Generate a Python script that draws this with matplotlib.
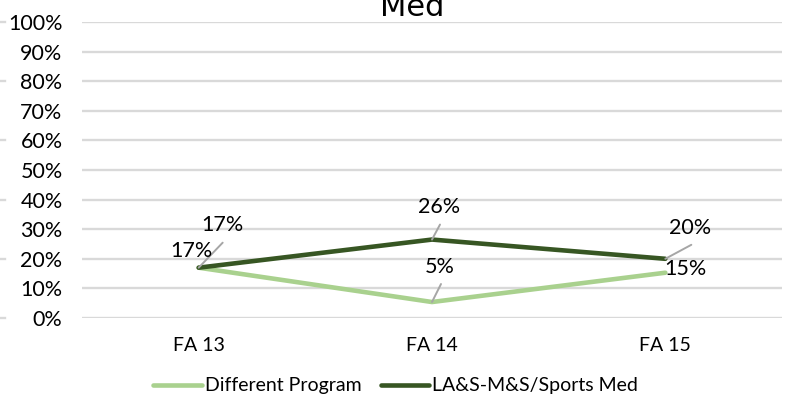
import numpy as np
import matplotlib.pyplot as plt
import matplotlib.transforms as mtransforms

plt.rcParams['font.family'] = ['Lato', 'DejaVu Sans']

# данные
categories = ['FA 13', 'FA 14', 'FA 15']
different_program = [0.17, 0.054, 0.153]
sports_med = [0.17, 0.265, 0.20]
yticks = np.arange(0, 1.01, 0.1)

light = '#A9D18E'
dark = '#375623'
grid_col = '#D9D9D9'
leader_col = '#A6A6A6'

fig = plt.figure(figsize=(7.91, 4.05), dpi=100)
ax = fig.add_axes([82 / 791, 1 - 318 / 405, 700 / 791, 296 / 405])

x = np.arange(len(categories))
ax.plot(x, different_program, color=light, lw=3.3, solid_capstyle='round',
        solid_joinstyle='round', label='Different Program', zorder=3)
ax.plot(x, sports_med, color=dark, lw=3.3, solid_capstyle='round',
        solid_joinstyle='round', label='LA&S-M&S/Sports Med', zorder=4)

ax.set_xlim(-0.5, 2.5)
ax.set_ylim(0, 1)
ax.set_yticks(yticks)
ax.set_yticklabels([f'{int(round(v * 100))}%' for v in yticks])
ax.set_xticks(x)
ax.set_xticklabels(categories)
ax.tick_params(axis='both', length=0, colors='black')
ax.tick_params(axis='y', pad=14, labelsize=15.5)
ax.tick_params(axis='x', pad=14, labelsize=14)
ax.grid(axis='y', color=grid_col, lw=1.7)
ax.set_axisbelow(True)
for s in ax.spines.values():
    s.set_visible(False)

# подписи данных: (текст dx, dy, конец выноски dx, dy) в пикселях
px = 0.72
dark_lab = [(24, 43, 24, 25), (7, 33, 8, 15), (25, 31, 26, 14)]
light_lab = [(-7, 17, None, None), (8, 35, 9, 18), (20, 4, None, None)]

for vals, labs in [(sports_med, dark_lab), (different_program, light_lab)]:
    for i, (v, (tx, ty, lx, ly)) in enumerate(zip(vals, labs)):
        if lx is not None:
            ax.annotate('', xy=(i, v), xytext=(lx * px, ly * px),
                        textcoords='offset points',
                        arrowprops=dict(arrowstyle='-', color=leader_col, lw=1.4,
                                        shrinkA=0, shrinkB=0), zorder=5)
        ax.annotate(f'{round(v * 100):.0f}%', xy=(i, v), xytext=(tx * px, ty * px),
                    textcoords='offset points', ha='center', va='center',
                    fontsize=15.5, zorder=6)

# обрезанный заголовок
fig.text(412 / 791, 1 - 16 / 405, 'Med', ha='center', va='baseline',
         fontsize=22, family=['DejaVu Sans'])

# мелкие штрихи у левого края
trans = mtransforms.blended_transform_factory(fig.transFigure, ax.transData)
for v in np.arange(0, 1.01, 0.2):
    ax.plot([0, 5 / 791], [v, v], color=grid_col, lw=1.7, transform=trans,
            clip_on=False)

fig.legend(loc='center', bbox_to_anchor=(0.5, 1 - 386 / 405), ncol=2,
           frameon=False, fontsize=14, handlelength=2.5, handletextpad=0.15,
           columnspacing=1.0)

fig.savefig('out.png', dpi=100)
